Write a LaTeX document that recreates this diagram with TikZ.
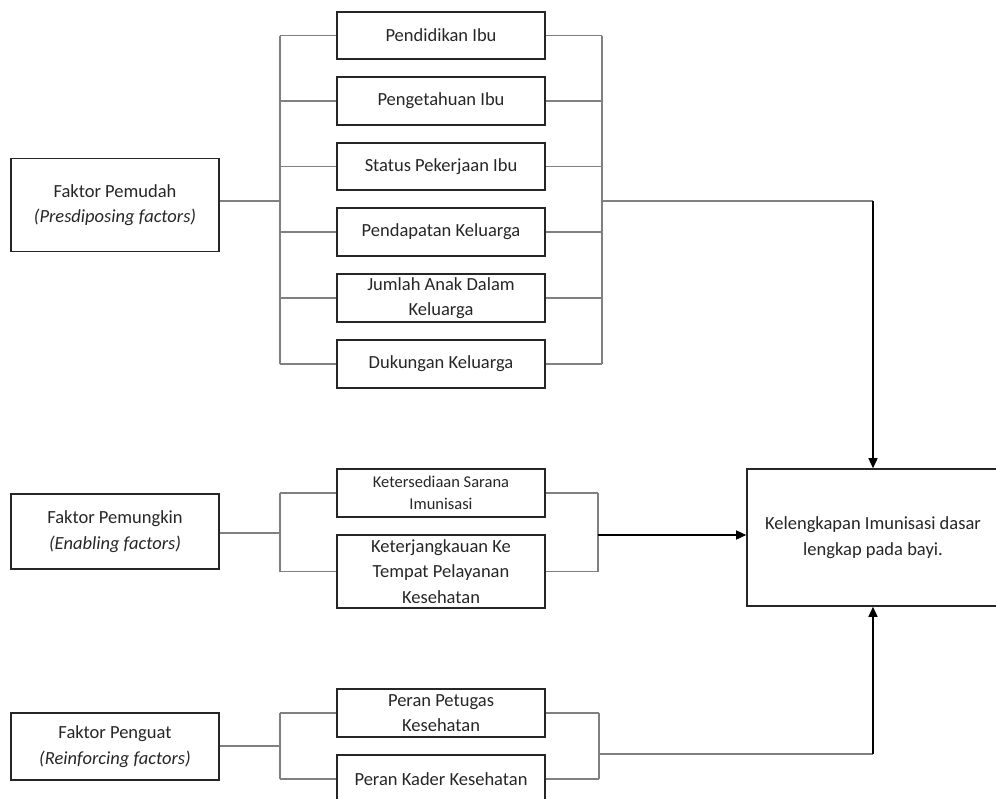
\documentclass[tikz,border=0pt]{standalone}
\usepackage{fontspec}
\setmainfont{Carlito}
\usetikzlibrary{arrows.meta}
\begin{document}
\begin{tikzpicture}[x=1pt,y=-1pt,
  box/.style={draw=black!85,line width=1.6pt,inner sep=0pt,align=center,
    font=\fontsize{18.5}{25.5}\selectfont,text=black!85},
  midbox/.style={box,minimum width=208pt},
  sidebox/.style={box,minimum width=208pt},
  conn/.style={draw=black!50,line width=1.1pt},
  arr/.style={draw=black,line width=1.5pt,-{Triangle[length=10pt,width=9pt]}},
  arrl/.style={draw=black,line width=1.5pt}]
\useasboundingbox (0,0) rectangle (996,798);
\clip (0,0) rectangle (996,798);
% left factor boxes
\node[sidebox,minimum height=93pt] (pem) at (115,205) {Faktor Pemudah\\\textit{(Presdiposing factors)}};
\node[sidebox,minimum height=75pt] (pmk) at (115,531.5) {Faktor Pemungkin\\\textit{(Enabling factors)}};
\node[sidebox,minimum height=67pt] (png) at (115,746.5) {Faktor Penguat\\\textit{(Reinforcing factors)}};
% middle boxes group 1
\node[midbox,minimum height=47pt] (b1) at (441,35.5) {Pendidikan Ibu};
\node[midbox,minimum height=48pt] (b2) at (441,101) {Pengetahuan Ibu};
\node[midbox,minimum height=47pt] (b3) at (441,166.5) {Status Pekerjaan Ibu};
\node[midbox,minimum height=48pt] (b4) at (441,232) {Pendapatan Keluarga};
\node[midbox,minimum height=48pt] (b5) at (441,298) {Jumlah Anak Dalam\\Keluarga};
\node[midbox,minimum height=48pt] (b6) at (441,364) {Dukungan Keluarga};
% group 2
\node[midbox,minimum height=48pt,font=\fontsize{16.5}{22}\selectfont] (e1) at (441,493) {Ketersediaan Sarana\\Imunisasi};
\node[midbox,minimum height=73pt] (e2) at (441,571.5) {Keterjangkauan Ke\\Tempat Pelayanan\\Kesehatan};
% group 3
\node[midbox,minimum height=48pt] (r1) at (441,713) {Peran Petugas\\Kesehatan};
\node[midbox,minimum height=48pt] (r2) at (441,779) {Peran Kader Kesehatan};
% outcome
\node[box,minimum width=252pt,minimum height=137pt] (out) at (873,537.5) {Kelengkapan Imunisasi dasar\\lengkap pada bayi.};
% junctions
\coordinate (jl1) at (280,201);
\coordinate (jr1) at (602,201);
\coordinate (jl2) at (280,533);
\coordinate (jr2) at (598,535);
\coordinate (jl3) at (280,746);
\coordinate (jr3) at (599,754);
% group 1 connectors
\draw[conn] (pem.east |- jl1) -- (jl1);
\draw[conn] (b1.west -| jl1) -- (b6.west -| jl1);
\foreach \b in {b1,b2,b3,b4,b5,b6} {
  \draw[conn] (\b.west) -- (\b.west -| jl1);
  \draw[conn] (\b.east) -- (\b.east -| jr1);
}
\draw[conn] (b1.east -| jr1) -- (b6.east -| jr1);
\coordinate (c1) at (out.north |- jr1);
\draw[conn] (jr1) -- (c1);
\draw[arr] (c1) -- (out.north);
% group 2 connectors
\draw[conn] (pmk.east |- jl2) -- (jl2);
\draw[conn] (e1.west -| jl2) -- (e2.west -| jl2);
\foreach \b in {e1,e2} {
  \draw[conn] (\b.west) -- (\b.west -| jl2);
  \draw[conn] (\b.east) -- (\b.east -| jr2);
}
\draw[conn] (e1.east -| jr2) -- (e2.east -| jr2);
\draw[arr] (jr2) -- (jr2 -| out.west);
% group 3 connectors
\draw[conn] (png.east |- jl3) -- (jl3);
\draw[conn] (r1.west -| jl3) -- (r2.west -| jl3);
\foreach \b in {r1,r2} {
  \draw[conn] (\b.west) -- (\b.west -| jl3);
  \draw[conn] (\b.east) -- (\b.east -| jr3);
}
\draw[conn] (r1.east -| jr3) -- (r2.east -| jr3);
\coordinate (c3) at (out.south |- jr3);
\draw[conn] (jr3) -- (c3);
\draw[arr] (c3) -- (out.south);
\end{tikzpicture}
\end{document}
